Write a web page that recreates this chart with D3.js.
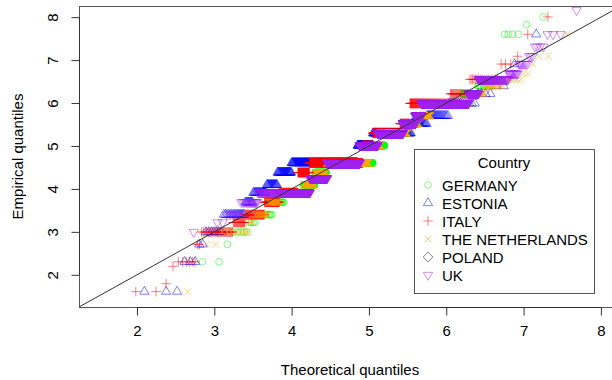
<!DOCTYPE html>
<html>
<head>
<meta charset="utf-8">
<script src="https://cdn.jsdelivr.net/npm/d3@7"></script>
<style>
  body { margin: 0; background: #fff; }
  text { font-family: "Liberation Sans", Arial, sans-serif; fill: #000; }
</style>
</head>
<body>
<svg id="chart" width="612" height="380"></svg>
<script>
// empirical levels (log scale) seen as horizontal bands in the plot
const levels = [1.609, 1.792, 2.197, 2.303, 2.708, 2.996, 3.219, 3.401, 3.689, 3.912,
                4.094, 4.248, 4.382, 4.605, 5.011, 5.298, 5.521, 5.704, 5.991, 6.215,
                6.397, 6.551, 6.685, 6.908, 7.090, 7.313, 7.601, 7.824, 8.006, 8.161];

const countries = ["GERMANY", "ESTONIA", "ITALY", "THE NETHERLANDS", "POLAND", "UK"];
const colors    = ["#00ff00", "#0000ff", "#ff0000", "#ffa500", "#000000", "#a020f0"];
const shapes    = ["circle", "triUp", "plus", "cross", "diamond", "triDown"];

// number of observations at each level, per country
const germanyCounts = [0,0,0,2,1,5,4,14,17,47,41,0,54,315,89,160,66,37,105,21,12,4,0,0,0,0,4,1,1,0];
const estoniaCounts = [3,0,0,3,2,8,0,17,9,19,19,0,30,193,45,86,23,21,14,4,2,0,0,1,0,0,1,0,0,0];
const italyCounts   = [2,1,1,6,2,29,20,47,51,82,0,0,61,328,59,134,38,0,97,21,0,15,0,3,1,0,1,0,1,0];
const nethCounts    = [1,0,0,0,2,10,3,13,16,54,40,0,49,253,80,179,66,57,122,24,17,8,2,1,2,0,1,0,0,0];
const polandCounts  = [0,0,0,0,0,0,0,0,0,0,0,0,0,0,0,0,0,0,0,0,0,0,0,0,0,0,0,0,0,0];
const ukCounts      = [0,0,0,0,0,2,2,6,15,212,0,177,0,534,378,564,252,114,567,57,0,90,12,8,3,4,3,0,0,1];
const allCounts = [germanyCounts, estoniaCounts, italyCounts, nethCounts, polandCounts, ukCounts];

// fitted normal used for the theoretical quantiles
const fitMean = [5.05, 4.63, 4.65, 5.11, 5.0, 5.21];
const fitSd   = [0.67, 0.82, 0.81, 0.745, 1.0, 0.69];

const xTicks = [2, 3, 4, 5, 6, 7, 8];
const yTicks = [2, 3, 4, 5, 6, 7, 8];

// inverse normal cdf (Acklam)
function qnorm(p) {
  const a = [-3.969683028665376e+01, 2.209460984245205e+02, -2.759285104469687e+02, 1.383577518672690e+02, -3.066479806614716e+01, 2.506628277459239e+00];
  const b = [-5.447609879822406e+01, 1.615858368580409e+02, -1.556989798598866e+02, 6.680131188771972e+01, -1.328068155288572e+01];
  const c = [-7.784894002430293e-03, -3.223964580411365e-01, -2.400758277161838e+00, -2.549732539343734e+00, 4.374664141464968e+00, 2.938163982698783e+00];
  const d = [7.784695709041462e-03, 3.224671290700398e-01, 2.445134137142996e+00, 3.754408661907416e+00];
  const plow = 0.02425;
  let q, r;
  if (p < plow) {
    q = Math.sqrt(-2 * Math.log(p));
    return (((((c[0]*q+c[1])*q+c[2])*q+c[3])*q+c[4])*q+c[5]) / ((((d[0]*q+d[1])*q+d[2])*q+d[3])*q+1);
  }
  if (p > 1 - plow) {
    q = Math.sqrt(-2 * Math.log(1 - p));
    return -(((((c[0]*q+c[1])*q+c[2])*q+c[3])*q+c[4])*q+c[5]) / ((((d[0]*q+d[1])*q+d[2])*q+d[3])*q+1);
  }
  q = p - 0.5; r = q * q;
  return (((((a[0]*r+a[1])*r+a[2])*r+a[3])*r+a[4])*r+a[5])*q / (((((b[0]*r+b[1])*r+b[2])*r+b[3])*r+b[4])*r+1);
}

const svg = d3.select("#chart");
const mLeft = 79, mRight = 621, mTop = 6, mBottom = 307;

const x = d3.scaleLinear().domain([1.25, 8.26]).range([mLeft, mRight]);
const y = d3.scaleLinear().domain([1.25, 8.26]).range([mBottom, mTop]);

// marker shapes like R pch 1..6
function symbolPath(shape, u) {
  const s2 = Math.SQRT2 * u;
  switch (shape) {
    case "circle":
      return `M${-u},0A${u},${u} 0 1,0 ${u},0A${u},${u} 0 1,0 ${-u},0Z`;
    case "triUp":
      return `M0,${-1.555*u}L${1.3468*u},${0.7776*u}L${-1.3468*u},${0.7776*u}Z`;
    case "triDown":
      return `M0,${1.555*u}L${1.3468*u},${-0.7776*u}L${-1.3468*u},${-0.7776*u}Z`;
    case "plus":
      return `M${-s2},0H${s2}M0,${-s2}V${s2}`;
    case "cross":
      return `M${-u},${-u}L${u},${u}M${-u},${u}L${u},${-u}`;
    case "diamond":
      return `M${-s2},0L0,${-s2}L${s2},0L0,${s2}Z`;
  }
}

svg.append("defs").append("clipPath").attr("id", "plotclip")
  .append("rect").attr("x", mLeft).attr("y", mTop)
  .attr("width", mRight - mLeft).attr("height", mBottom - mTop);

const plot = svg.append("g").attr("clip-path", "url(#plotclip)");

allCounts.forEach((counts, ci) => {
  const sample = [];
  counts.forEach((c, li) => { for (let k = 0; k < c; k++) sample.push(levels[li]); });
  const n = sample.length;
  const pts = sample.map((v, k) => ({
    tq: fitMean[ci] + fitSd[ci] * qnorm((k + 0.5) / n),
    eq: v
  }));
  const path = symbolPath(shapes[ci], 3.4);
  plot.append("g").selectAll("path").data(pts).enter().append("path")
    .attr("d", path)
    .attr("transform", d => `translate(${x(d.tq)},${y(d.eq)})`)
    .attr("fill", "none")
    .attr("stroke", colors[ci])
    .attr("stroke-opacity", 0.5)
    .attr("stroke-width", 1);
});

// reference line y = x
plot.append("line")
  .attr("x1", x(1.25)).attr("y1", y(1.25))
  .attr("x2", x(8.26)).attr("y2", y(8.26))
  .attr("stroke", "#333").attr("stroke-width", 1);

// box
svg.append("rect")
  .attr("x", mLeft + 0.5).attr("y", mTop + 0.5)
  .attr("width", mRight - mLeft).attr("height", mBottom - mTop)
  .attr("fill", "none").attr("stroke", "#555");

// x axis
const xa = svg.append("g").attr("transform", `translate(0,${mBottom + 0.5})`)
  .call(d3.axisBottom(x).tickValues(xTicks).tickFormat(d3.format("d"))
    .tickSize(8).tickSizeOuter(0).tickPadding(10));
xa.select(".domain").attr("stroke", "#333").attr("d", `M${x(2)},0H${x(8)}`);
xa.selectAll(".tick line").attr("stroke", "#333");
xa.selectAll("text").attr("font-size", 15).attr("font-family", "Liberation Sans, Arial, sans-serif");

// y axis
const ya = svg.append("g").attr("transform", `translate(${mLeft + 0.5},0)`)
  .call(d3.axisLeft(y).tickValues(yTicks).tickFormat(d3.format("d"))
    .tickSize(8).tickSizeOuter(0));
ya.select(".domain").attr("stroke", "#333").attr("d", `M0,${y(2)}V${y(8)}`);
ya.selectAll(".tick line").attr("stroke", "#333");
ya.selectAll("text")
  .attr("font-size", 15).attr("font-family", "Liberation Sans, Arial, sans-serif")
  .attr("text-anchor", "middle").attr("x", 0).attr("dy", 0)
  .attr("transform", "translate(-22,0) rotate(-90)");

svg.append("text").attr("x", (mLeft + mRight) / 2).attr("y", 375)
  .attr("text-anchor", "middle").attr("font-size", 15).text("Theoretical quantiles");
svg.append("text").attr("transform", `translate(23,${(mTop + mBottom) / 2}) rotate(-90)`)
  .attr("text-anchor", "middle").attr("font-size", 15).text("Empirical quantiles");

// legend
const lg = svg.append("g");
lg.append("rect").attr("x", 414.5).attr("y", 149.5).attr("width", 180).attr("height", 144)
  .attr("fill", "#fff").attr("stroke", "#555");
lg.append("text").attr("x", 504).attr("y", 168).attr("text-anchor", "middle")
  .attr("font-size", 15).text("Country");
const items = lg.selectAll(".item").data(countries).enter().append("g")
  .attr("transform", (d, i) => `translate(428,${185 + i * 18})`);
items.append("path").attr("d", (d, i) => symbolPath(shapes[i], 3.4))
  .attr("fill", "none").attr("stroke", (d, i) => colors[i]).attr("stroke-opacity", 0.5);
items.append("text").attr("x", 14).attr("y", 5.5).attr("font-size", 15).text(d => d);
</script>
</body>
</html>
